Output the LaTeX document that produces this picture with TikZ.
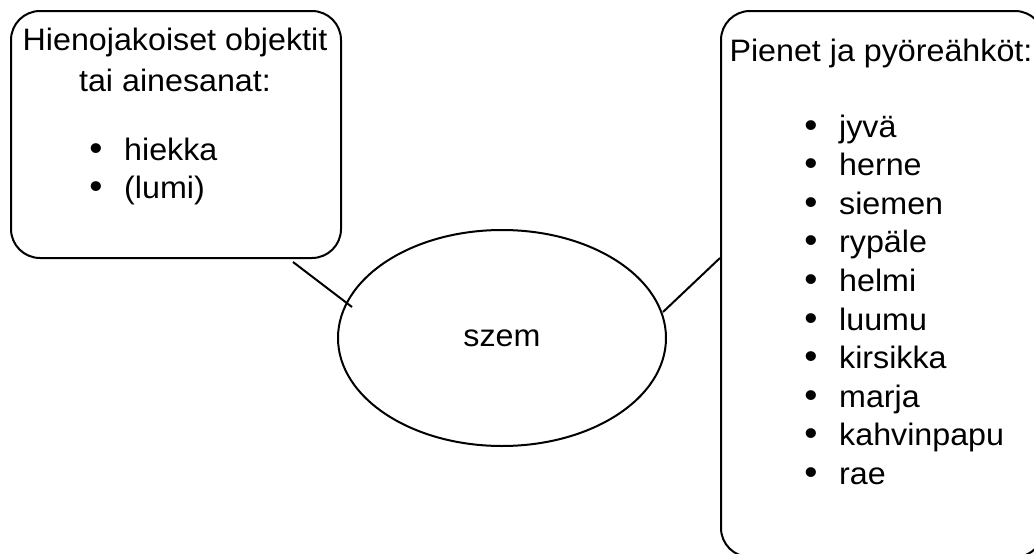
\documentclass[tikz,border=0pt]{standalone}
\usepackage{fontspec}
\setmainfont{Liberation Sans}[FakeStretch=1.04]
\usetikzlibrary{shapes.geometric}

\begin{document}
\begin{tikzpicture}[x=1pt,y=-1pt,
    panel/.style={draw=black,line width=2pt,rounded corners=29pt,inner sep=0pt},
    txt/.style={inner sep=0pt,font=\fontsize{31}{38.5}\selectfont},
    dot/.style={inner sep=0pt,font=\fontsize{36}{38.5}\selectfont},
    link/.style={draw=black,line width=2pt}]
  \useasboundingbox (0,0) rectangle (1034,554);
  \clip (0,0) rectangle (1034,554);

  % boxes and central ellipse
  \node[panel,minimum width=330pt,minimum height=247pt,anchor=north west] (lbox) at (10,10) {};
  \node[panel,minimum width=323pt,minimum height=546pt,anchor=north west] (rbox) at (720,10) {};
  \node[draw=black,line width=2pt,ellipse,minimum width=328pt,minimum height=216pt,inner sep=0pt,
        font=\fontsize{31}{38.5}\selectfont] (szem) at (502,338) {szem};

  % left panel text
  \node[txt,anchor=base] (lh1) at (175,50) {Hienojakoiset objektit};
  \node[txt,anchor=base] (lh2) at (175,91) {tai ainesanat:};
  \foreach \w [count=\i from 0] in {hiekka,(lumi)} {
    \node[dot,anchor=base] (lb\i) at (96,160+38*\i) {\textbullet};
    \node[txt,anchor=base west] (lw\i) at (124,160+38*\i) {\w};
  }

  % right panel text
  \node[txt,anchor=base] (rh) at (881,61) {Pienet ja pyöreähköt:};
  \foreach \w [count=\i from 0] in {jyvä,herne,siemen,rypäle,helmi,luumu,kirsikka,marja,kahvinpapu,rae} {
    \node[dot,anchor=base] (rb\i) at (811,137+38.6*\i) {\textbullet};
    \node[txt,anchor=base west] (rw\i) at (839,137+38.6*\i) {\w};
  }

  % connectors
  \coordinate (lend) at (293,262);
  \coordinate (lmeet) at (352,307);
  \coordinate (rstart) at (663,312);
  \coordinate (rmeet) at (rbox.west |- 0,258);
  \draw[link] (lend) -- (lmeet);
  \draw[link] (rstart) -- (rmeet);
\end{tikzpicture}
\end{document}
